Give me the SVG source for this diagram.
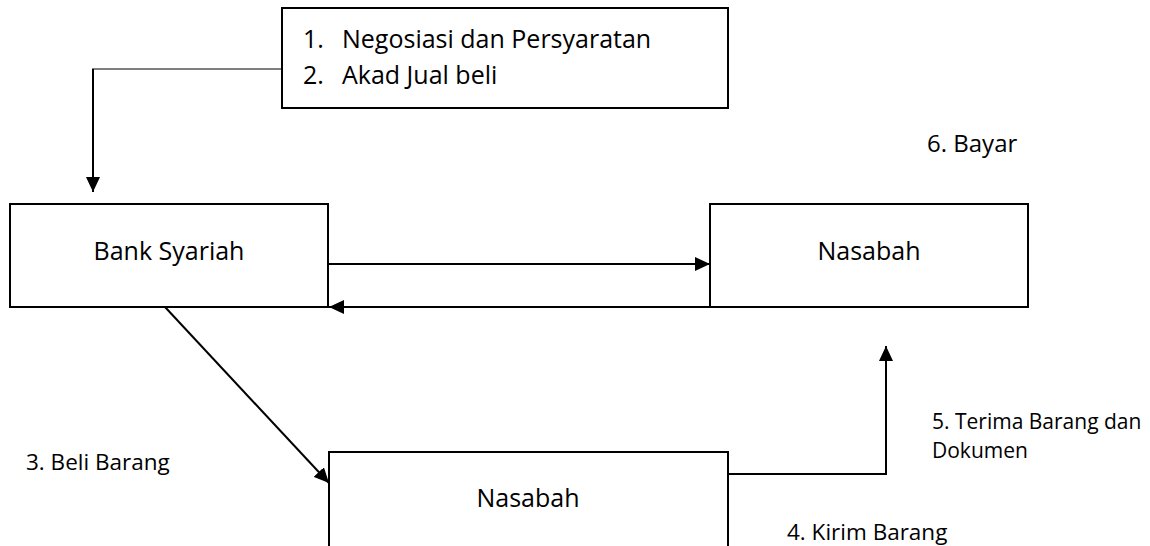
<svg xmlns="http://www.w3.org/2000/svg" width="1150" height="546" viewBox="0 0 1150 546">
<style>
.box{fill:#fff;stroke:#000;stroke-width:2}
.t{font-family:"Open Sans","Liberation Sans",sans-serif;fill:#000}
.xl{font-size:25px}
.lg{font-size:25px}
.bay{font-size:24px}
.md{font-size:22.5px}
.sm{font-size:21px}
.c{stroke:#000;stroke-width:2;fill:none}
.thin{stroke:#000;stroke-width:1.2;fill:none}
</style>
<defs>
<marker id="ah" viewBox="0 0 15 14" refX="15" refY="7" markerWidth="7.5" markerHeight="7" orient="auto" markerUnits="strokeWidth">
<path d="M0,0 L15,7 L0,14 z" fill="#000"/>
</marker>
</defs>
<rect width="1150" height="546" fill="#fff"/>
<g id="connectors">
<line class="thin" x1="282" y1="69" x2="92" y2="69"/>
<line class="c" x1="93" y1="69" x2="93" y2="192" marker-end="url(#ah)"/>
<line class="c" x1="328" y1="264" x2="710" y2="264" marker-end="url(#ah)"/>
<line class="c" x1="710" y1="307" x2="329" y2="307" marker-end="url(#ah)"/>
<line class="c" x1="165" y1="307" x2="329" y2="483" marker-end="url(#ah)"/>
<polyline class="c" points="728,474 886,474 886,346" marker-end="url(#ah)"/>
</g>
<g id="node-akad">
<rect class="box" x="282" y="8" width="446" height="100"/>
<text class="t xl" x="303" y="48">1.</text>
<text class="t xl" x="342" y="48">Negosiasi dan Persyaratan</text>
<text class="t xl" x="303" y="84">2.</text>
<text class="t xl" x="342" y="84">Akad Jual beli</text>
</g>
<g id="node-bank">
<rect class="box" x="10" y="204" width="318" height="103"/>
<text class="t lg" x="169" y="260" text-anchor="middle">Bank Syariah</text>
</g>
<g id="node-nasabah1">
<rect class="box" x="710" y="204" width="318" height="103"/>
<text class="t lg" x="869" y="260" text-anchor="middle">Nasabah</text>
</g>
<g id="node-nasabah2">
<rect class="box" x="329" y="452" width="399" height="110"/>
<text class="t lg" x="528" y="507" text-anchor="middle">Nasabah</text>
</g>
<g id="labels">
<text class="t bay" x="927" y="152">6. Bayar</text>
<text class="t md" x="26" y="470">3. Beli Barang</text>
<text class="t sm" x="932" y="429">5. Terima Barang dan</text>
<text class="t sm" x="932" y="458">Dokumen</text>
<text class="t md" x="787" y="540">4. Kirim Barang</text>
</g>
</svg>
